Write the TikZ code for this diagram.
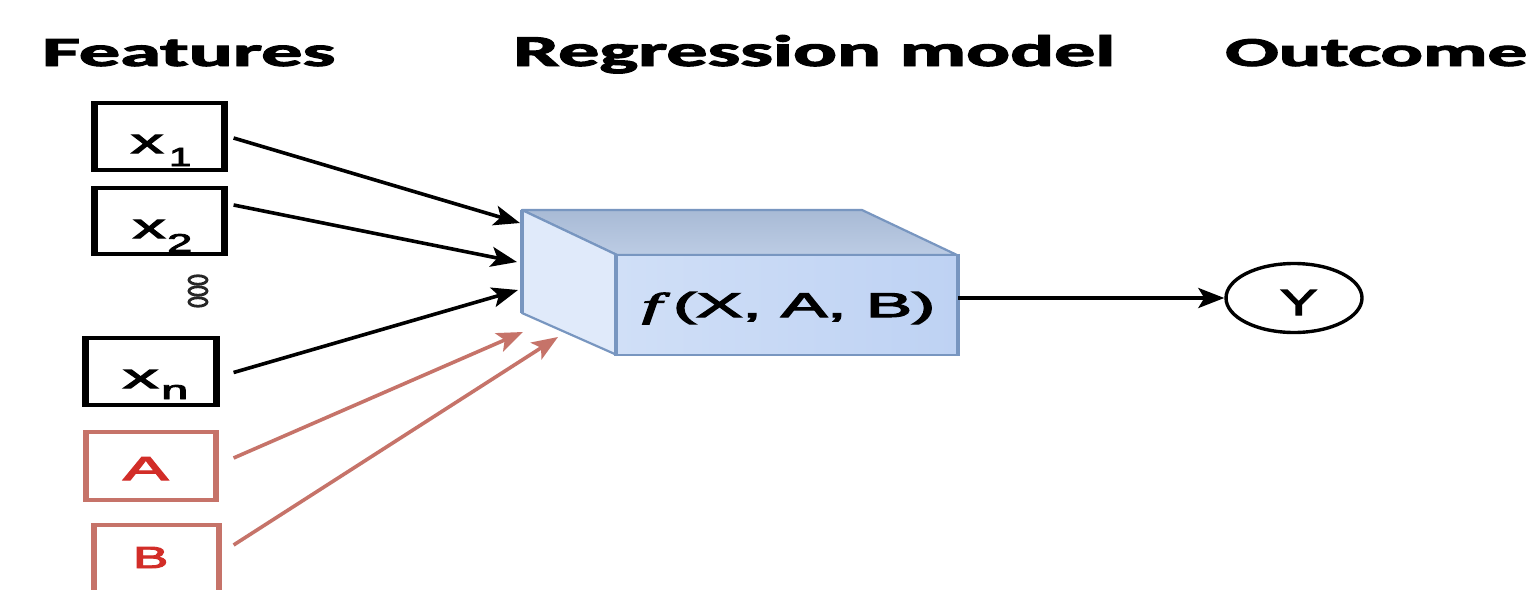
\documentclass[tikz,border=0pt]{standalone}
\usepackage{fontspec}
\setmainfont{Liberation Sans}
\newfontfamily\hdrfont[BoldFeatures={FakeBold=2.2}]{Carlito}
\newfontfamily\labfont[FakeBold=3]{Liberation Sans}
\newfontfamily\ffont[FakeBold=3]{Liberation Serif}
\usetikzlibrary{arrows.meta,shapes.geometric}
\definecolor{redline}{RGB}{198,115,105}
\definecolor{redtext}{RGB}{210,45,40}
\definecolor{edgeblue}{RGB}{120,150,192}
\definecolor{topface}{RGB}{168,186,213}
\definecolor{topface2}{RGB}{188,204,228}
\definecolor{leftface}{RGB}{224,234,250}
\definecolor{frontL}{RGB}{208,223,247}
\definecolor{frontR}{RGB}{190,210,243}
\tikzset{
  hdr/.style={anchor=base west, inner sep=0pt, font=\hdrfont\bfseries},
  featbox/.style={draw=black, line width=3.2pt, inner sep=0pt},
  redbox/.style={draw=redline, line width=3.2pt, inner sep=0pt},
  lab/.style={anchor=base west, inner sep=0pt, font=\labfont},
  blackarrow/.style={draw=black, line width=3.6pt, -{Stealth[length=26pt,width=20pt,inset=6pt]}},
  redarrow/.style={draw=redline, line width=3.6pt, -{Stealth[length=26pt,width=20pt,inset=6pt]}},
}
\begin{document}
\begin{tikzpicture}[x=1pt,y=-1pt]
\useasboundingbox (0,0) rectangle (1530,589);
\clip (0,0) rectangle (1530,589);
\fill[white] (0,0) rectangle (1530,589);

% headers
\node[hdr] (hfeat) at (42,66) {\resizebox{293pt}{27pt}{Features}};
\node[hdr] (hreg) at (513,66) {\resizebox{602pt}{31pt}{Regression model}};
\node[hdr] (hout) at (1225,66) {\resizebox{302pt}{27pt}{Outcome}};

% feature boxes
\node[featbox, minimum width=127pt, minimum height=67pt] (x1) at (159.5,136.5) {};
\node[featbox, minimum width=127pt, minimum height=66pt] (x2) at (159.5,221) {};
\node[featbox, minimum width=128pt, minimum height=67pt] (xn) at (151,371.5) {};
\node[redbox, minimum width=128pt, minimum height=68pt] (A) at (151,466) {};
\node[redbox, minimum width=123pt, minimum height=72pt] (B) at (156.5,561) {};
% thicker vertical sides (horizontal stretch of the original)
\foreach \b in {x1,x2,xn}
  \draw[black, line width=6pt] (\b.north west) -- (\b.south west)
                                (\b.north east) -- (\b.south east);
\foreach \b in {A,B}
  \draw[redline, line width=5pt] (\b.north west) -- (\b.south west)
                                 (\b.north east) -- (\b.south east);

% labels
\node[lab] (x1t) at (131,153) {\resizebox{32pt}{18pt}{x}};
\node[lab] (x1s) at (169,166) {\resizebox{22pt}{18pt}{1}};
\node[lab] (x2t) at (133,238) {\resizebox{32pt}{18pt}{x}};
\node[lab] (x2s) at (167,252) {\resizebox{25pt}{18pt}{2}};
\node[lab] (xnt) at (123,388) {\resizebox{35pt}{18pt}{x}};
\node[lab] (xns) at (161,399) {\resizebox{27pt}{14pt}{n}};
\node[lab, text=redtext] (At) at (123,480) {\resizebox{45pt}{23pt}{A}};
\node[lab, text=redtext] (Bt) at (133,568) {\resizebox{35pt}{21pt}{B}};

% vertical dots
\foreach \yy/\nm in {280/d1,291/d2,302/d3}
  \node[draw=black!85, fill=white, line width=2.8pt, ellipse, minimum width=18pt, minimum height=8.5pt, inner sep=0pt] (\nm) at (198,\yy) {};

% cube
\shade[top color=topface, bottom color=topface2, draw=edgeblue, line width=2.2pt, line join=round]
  (522,210) -- (862,210) -- (957,255) -- (617,255) -- cycle;
\fill[leftface, draw=edgeblue, line width=2.2pt, line join=round]
  (522,210) -- (617,255) -- (617,355) -- (522,313) -- cycle;
\node[draw=edgeblue, line width=2.2pt, left color=frontL, right color=frontR,
      minimum width=340pt, minimum height=100pt, inner sep=0pt] (fx) at (787,305) {};
\draw[edgeblue, line width=4pt] (522,210) -- (522,313);
\draw[edgeblue, line width=4pt] (fx.north west) -- (fx.south west) (fx.north east) -- (fx.south east);
\node[lab] (fxt) at (642,317) {\resizebox{293pt}{25pt}{{\ffont\itshape f}\,(X, A, B)}};

% outcome
\node[draw=black, line width=3.4pt, ellipse, minimum width=136pt, minimum height=69pt, inner sep=0pt] (Y) at (1294,298) {};
\node[lab] (Yt) at (1280,315) {\resizebox{37pt}{25pt}{Y}};

% arrow end points on cube
\coordinate (e1) at (520,223);
\coordinate (e2) at (517,262);
\coordinate (e3) at (518,290);
\coordinate (e4) at (523,332);
\coordinate (e5) at (558,337);

\draw[blackarrow] ([xshift=9pt,yshift=-1.5pt]x1.east) -- (e1);
\draw[blackarrow] ([xshift=9pt,yshift=16pt]x2.east) -- (e2);
\draw[blackarrow] ([xshift=17pt,yshift=-1pt]xn.east) -- (e3);
\draw[redarrow] ([xshift=17pt,yshift=8pt]A.east) -- (e4);
\draw[redarrow] ([xshift=14pt,yshift=16pt]B.east) -- (e5);
\draw[blackarrow] (fx.east |- Y.west) -- (Y.west);
\end{tikzpicture}
\end{document}
